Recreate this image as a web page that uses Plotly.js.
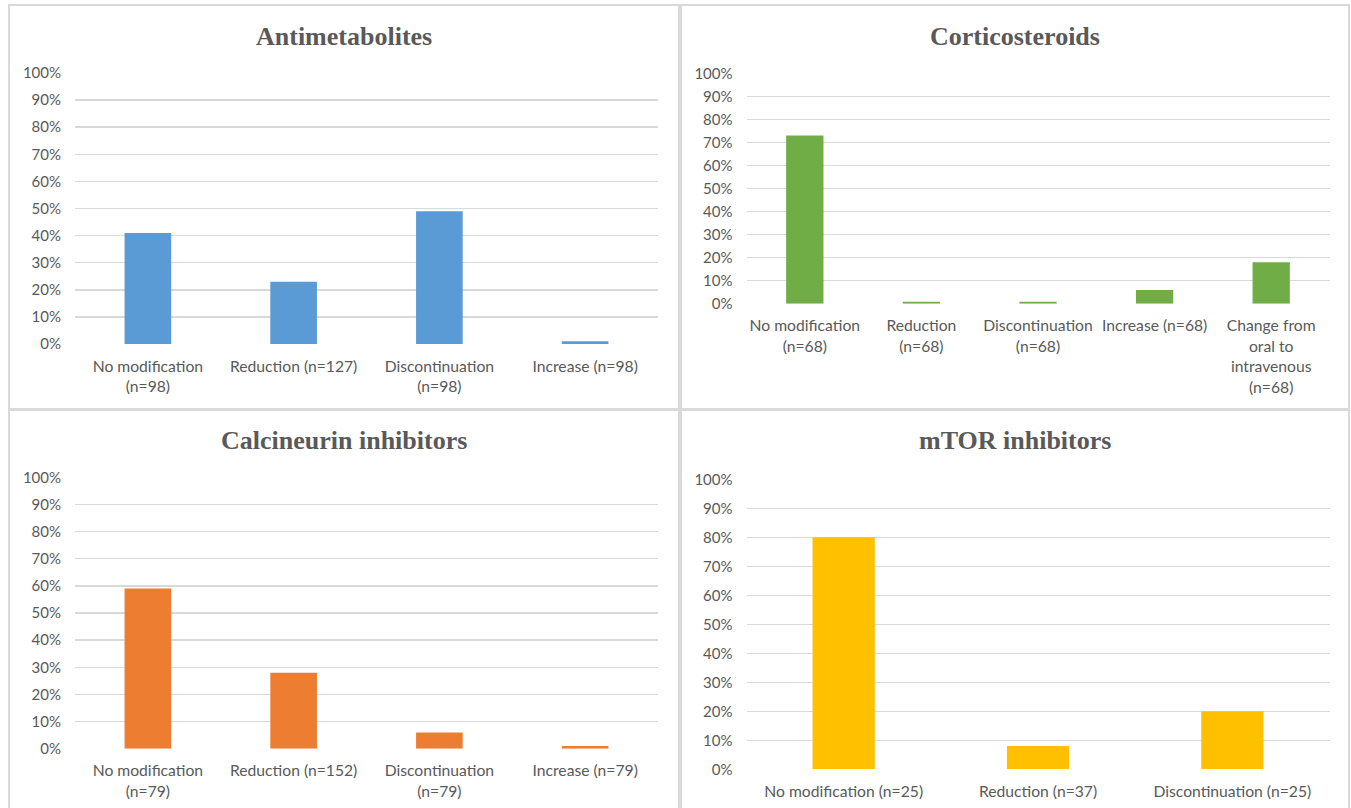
<!DOCTYPE html>
<html>
<head>
<meta charset="utf-8">
<script src="https://cdn.plot.ly/plotly-3.0.1.min.js"></script>
<style>html,body{margin:0;padding:0;background:#fff;}#chart{width:1351px;height:808px;}</style>
</head>
<body>
<div id="chart"></div>
<script>
// ---- Data ----
const antiCategories = ["No modification<br>(n=98)", "Reduction (n=127)", "Discontinuation<br>(n=98)", "Increase (n=98)"];
const antiValues = [0.41, 0.23, 0.49, 0.01];

const corticoCategories = ["No modification<br>(n=68)", "Reduction<br>(n=68)", "Discontinuation<br>(n=68)", "Increase (n=68)", "Change from<br>oral to<br>intravenous<br>(n=68)"];
const corticoValues = [0.73, 0.008, 0.008, 0.06, 0.18];

const calciCategories = ["No modification<br>(n=79)", "Reduction (n=152)", "Discontinuation<br>(n=79)", "Increase (n=79)"];
const calciValues = [0.59, 0.28, 0.06, 0.01];

const mtorCategories = ["No modification (n=25)", "Reduction (n=37)", "Discontinuation (n=25)"];
const mtorValues = [0.80, 0.08, 0.20];

const panelTitles = ["Antimetabolites", "Corticosteroids", "Calcineurin inhibitors", "mTOR inhibitors"];
const yTickVals = [0, 0.1, 0.2, 0.3, 0.4, 0.5, 0.6, 0.7, 0.8, 0.9, 1.0];
const yTickText = ["0%", "10%", "20%", "30%", "40%", "50%", "60%", "70%", "80%", "90%", "100%"];

// ---- Styling ----
const W = 1351, H = 808;
const txtColor = "#595959";
const gridColor = "#d9d9d9";
const yTickFont = {family: "Lato, 'Open Sans', sans-serif", size: 15, color: txtColor};
const xTickFont = {family: "Lato, 'Open Sans', sans-serif", size: 15.7, color: txtColor};

function px2x(a, b) { return [a / W, b / W]; }
function py2y(top, bottom) { return [1 - bottom / H, 1 - top / H]; }

const traces = [
  {type: "bar", x: antiCategories, y: antiValues, marker: {color: "#5B9BD5"}, xaxis: "x", yaxis: "y"},
  {type: "bar", x: corticoCategories, y: corticoValues, marker: {color: "#70AD47"}, xaxis: "x2", yaxis: "y2"},
  {type: "bar", x: calciCategories, y: calciValues, marker: {color: "#ED7D31"}, xaxis: "x3", yaxis: "y3"},
  {type: "bar", x: mtorCategories, y: mtorValues, marker: {color: "#FFC000"}, xaxis: "x4", yaxis: "y4"}
];

function xax(dom, anchor) {
  return {domain: dom, anchor: anchor, type: "category", showgrid: false, zeroline: false,
    showline: false, tickfont: xTickFont, ticks: "", ticklabelstandoff: 11, fixedrange: true};
}
function yax(dom, anchor) {
  return {domain: dom, anchor: anchor, range: [0, 1], tickvals: yTickVals, ticktext: yTickText,
    showgrid: true, gridcolor: gridColor, gridwidth: 1.5, zeroline: false, showline: false,
    tickfont: yTickFont, ticks: "", ticklabelstandoff: 13, fixedrange: true};
}

const panels = [
  [9, 5, 679, 409],
  [681, 5, 1349, 409],
  [9, 410, 679, 812],
  [681, 410, 1349, 812]
];
const titleY = [36, 36, 440, 440];

const shapes = panels.map(p => ({type: "rect", xref: "paper", yref: "paper",
  x0: p[0] / W, x1: p[2] / W, y0: 1 - p[3] / H, y1: 1 - p[1] / H,
  line: {color: gridColor, width: 2}, fillcolor: "rgba(0,0,0,0)", layer: "below"}));

const annotations = panelTitles.map((t, i) => ({
  text: "<b>" + t + "</b>", xref: "paper", yref: "paper", showarrow: false,
  x: ((panels[i][0] + panels[i][2]) / 2) / W, y: 1 - titleY[i] / H,
  xanchor: "center", yanchor: "middle",
  font: {family: "'Liberation Serif', 'Times New Roman', serif", size: 26, color: txtColor}
}));

const layout = {
  width: W, height: H,
  margin: {l: 0, r: 0, t: 0, b: 0},
  paper_bgcolor: "#fff", plot_bgcolor: "rgba(0,0,0,0)",
  showlegend: false, bargap: 0.68,
  xaxis: xax(px2x(75, 658), "y"),
  yaxis: yax(py2y(73, 344), "x"),
  xaxis2: xax(px2x(746.5, 1329.5), "y2"),
  yaxis2: yax(py2y(73.3, 303.7), "x2"),
  xaxis3: xax(px2x(75, 658), "y3"),
  yaxis3: yax(py2y(477.3, 748.7), "x3"),
  xaxis4: xax(px2x(746.5, 1329.5), "y4"),
  yaxis4: yax(py2y(479.3, 769.3), "x4"),
  shapes: shapes,
  annotations: annotations
};

Plotly.newPlot("chart", traces, layout, {displayModeBar: false, staticPlot: true});
</script>
</body>
</html>
